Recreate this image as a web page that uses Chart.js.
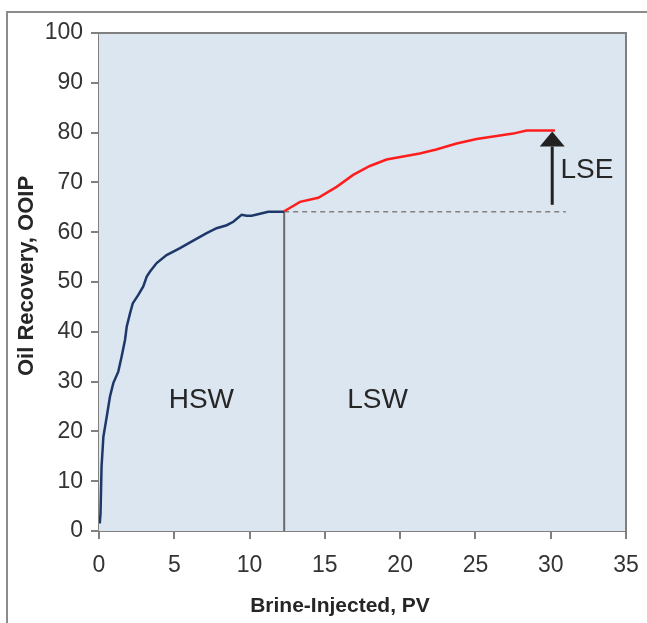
<!DOCTYPE html>
<html>
<head>
<meta charset="utf-8">
<script src="https://cdn.jsdelivr.net/npm/chart.js@4.4.1/dist/chart.umd.min.js"></script>
<style>
  html, body { margin: 0; padding: 0; background: #fff; overflow: hidden; }
  #wrap { position: relative; width: 647px; height: 623px; overflow: hidden; }
  #frame { position: absolute; left: 6px; top: 11px; width: 700px; height: 700px;
    border-left: 2px solid #8c8c8c; border-top: 2px solid #8c8c8c; }
  #chartCanvas { position: absolute; left: 0; top: 0; }
</style>
</head>
<body>
<div id="wrap">
  <div id="frame"></div>
  <canvas id="chartCanvas" width="647" height="623"></canvas>
</div>
<script>
// high salinity waterflood (blue) then low salinity (red)
const hswPV = [0.05, 0.1, 0.17, 0.29, 0.51, 0.73, 0.95, 1.28, 1.5, 1.73, 1.84, 2.06, 2.24, 2.61, 2.94,
  3.17, 3.39, 3.83, 4.49, 5.38, 6.26, 7.15, 7.81, 8.48, 8.92, 9.47, 9.81, 10.14, 10.69, 11.24, 12.3];
const hswRecovery = [1.5, 3.5, 12.9, 18.9, 22.9, 27.0, 29.7, 32.0, 35.0, 38.4, 41.0, 43.7, 45.7, 47.4, 49.1,
  51.1, 52.1, 53.8, 55.4, 56.8, 58.3, 59.8, 60.8, 61.4, 62.1, 63.5, 63.3, 63.3, 63.7, 64.1, 64.1];

const lswPV = [12.3, 13.35, 14.56, 15.78, 16.88, 17.99, 19.1, 20.2, 21.3, 22.4, 23.75, 25.08, 26.4, 27.5, 28.4, 30.28];
const lswRecovery = [64.2, 66.1, 66.9, 69.1, 71.5, 73.3, 74.6, 75.2, 75.8, 76.6, 77.8, 78.7, 79.3, 79.8, 80.4, 80.4];

// switch point and LSE reference line
const switchPV = 12.3;
const switchRecovery = 64.1;
const dashEndPV = 31;

// arrow showing low salinity effect
const arrowPV = 30.1;
const arrowFrom = 65.5;
const arrowTo = 80.2;

const regionLabels = ['HSW', 'LSW', 'LSE'];
const regionPV = [6.8, 18.5, 32.4];
const regionRecovery = [26.3, 26.3, 72.5];

const xTicks = [0, 5, 10, 15, 20, 25, 30, 35];
const yTicks = [0, 10, 20, 30, 40, 50, 60, 70, 80, 90, 100];
const xTitle = 'Brine-Injected, PV';
const yTitle = 'Oil Recovery, OOIP';

const FONT = '"Liberation Sans", Arial, sans-serif';

const toPoints = (xs, ys) => xs.map((x, i) => ({ x, y: ys[i] }));

const plotBox = {
  id: 'plotBox',
  beforeDatasetsDraw(chart) {
    const { ctx, chartArea: a } = chart;
    ctx.save();
    ctx.fillStyle = '#dce6f1';
    ctx.fillRect(a.left, a.top, a.right - a.left, a.bottom - a.top);
    ctx.restore();
  },
  afterDraw(chart) {
    const { ctx, chartArea: a, scales } = chart;
    const xs = scales.x, ys = scales.y;
    ctx.save();
    // top and right edges of plot
    ctx.strokeStyle = '#808080';
    ctx.lineWidth = 2;
    ctx.beginPath();
    ctx.moveTo(a.left, a.top);
    ctx.lineTo(a.right, a.top);
    ctx.lineTo(a.right, a.bottom);
    ctx.stroke();

    // arrow
    const ax = xs.getPixelForValue(arrowPV);
    const tip = ys.getPixelForValue(arrowTo);
    const base = tip + 15;
    ctx.strokeStyle = '#222';
    ctx.lineWidth = 3;
    ctx.beginPath();
    ctx.moveTo(ax, ys.getPixelForValue(arrowFrom));
    ctx.lineTo(ax, base);
    ctx.stroke();
    ctx.fillStyle = '#222';
    ctx.beginPath();
    ctx.moveTo(ax, tip);
    ctx.lineTo(ax + 12.5, base);
    ctx.lineTo(ax - 12.5, base);
    ctx.closePath();
    ctx.fill();

    // region labels
    ctx.fillStyle = '#262626';
    ctx.font = '28px ' + FONT;
    ctx.textAlign = 'center';
    ctx.textBaseline = 'middle';
    regionLabels.forEach((t, i) => {
      ctx.fillText(t, xs.getPixelForValue(regionPV[i]), ys.getPixelForValue(regionRecovery[i]));
    });

    // axis titles
    ctx.font = 'bold 21px ' + FONT;
    ctx.fillText(xTitle, 340, 606);
    ctx.translate(27, 276);
    ctx.rotate(-Math.PI / 2);
    ctx.font = 'bold 22px ' + FONT;
    ctx.fillText(yTitle, 0, 0);
    ctx.restore();
  }
};

const chartInstance = new Chart(document.getElementById('chartCanvas'), {
  type: 'scatter',
  data: {
    datasets: [
      {
        data: toPoints(lswPV, lswRecovery),
        showLine: true,
        borderColor: '#ff1e1e',
        borderWidth: 2.5,
        pointRadius: 0,
        tension: 0
      },
      {
        data: toPoints(hswPV, hswRecovery),
        showLine: true,
        borderColor: '#1d3868',
        borderWidth: 2.5,
        pointRadius: 0,
        tension: 0
      },
      {
        data: [{ x: switchPV, y: switchRecovery }, { x: dashEndPV, y: switchRecovery }],
        showLine: true,
        borderColor: '#808080',
        borderWidth: 1.5,
        borderDash: [5, 4],
        pointRadius: 0
      },
      {
        data: [{ x: switchPV, y: 0 }, { x: switchPV, y: switchRecovery }],
        showLine: true,
        borderColor: '#6a6a6a',
        borderWidth: 2,
        pointRadius: 0
      }
    ]
  },
  options: {
    responsive: false,
    animation: false,
    layout: { padding: { top: 33, right: 21, left: 0, bottom: 0 } },
    plugins: {
      legend: { display: false },
      tooltip: { enabled: false }
    },
    scales: {
      x: {
        type: 'linear',
        min: 0,
        max: 35,
        afterBuildTicks: axis => { axis.ticks = xTicks.map(v => ({ value: v })); },
        afterFit: axis => {
          axis.height = 92;
          // keep the label overhang from shrinking the plot
          axis.paddingLeft = 0;
          axis.paddingRight = 0;
        },
        grid: { drawOnChartArea: false, tickLength: 8, color: '#808080', lineWidth: 2 },
        border: { color: '#808080', width: 2 },
        ticks: { color: '#333', font: { family: FONT, size: 23 }, padding: 13, maxRotation: 0 }
      },
      y: {
        type: 'linear',
        min: 0,
        max: 100,
        afterBuildTicks: axis => { axis.ticks = yTicks.map(v => ({ value: v })); },
        afterFit: axis => {
          axis.width = 99;
          axis.paddingTop = 0;
          axis.paddingBottom = 0;
        },
        grid: { drawOnChartArea: false, tickLength: 8, color: '#808080', lineWidth: 2 },
        border: { color: '#808080', width: 2 },
        ticks: { color: '#333', font: { family: FONT, size: 23 }, padding: 8 }
      }
    }
  },
  plugins: [plotBox]
});
</script>
</body>
</html>
